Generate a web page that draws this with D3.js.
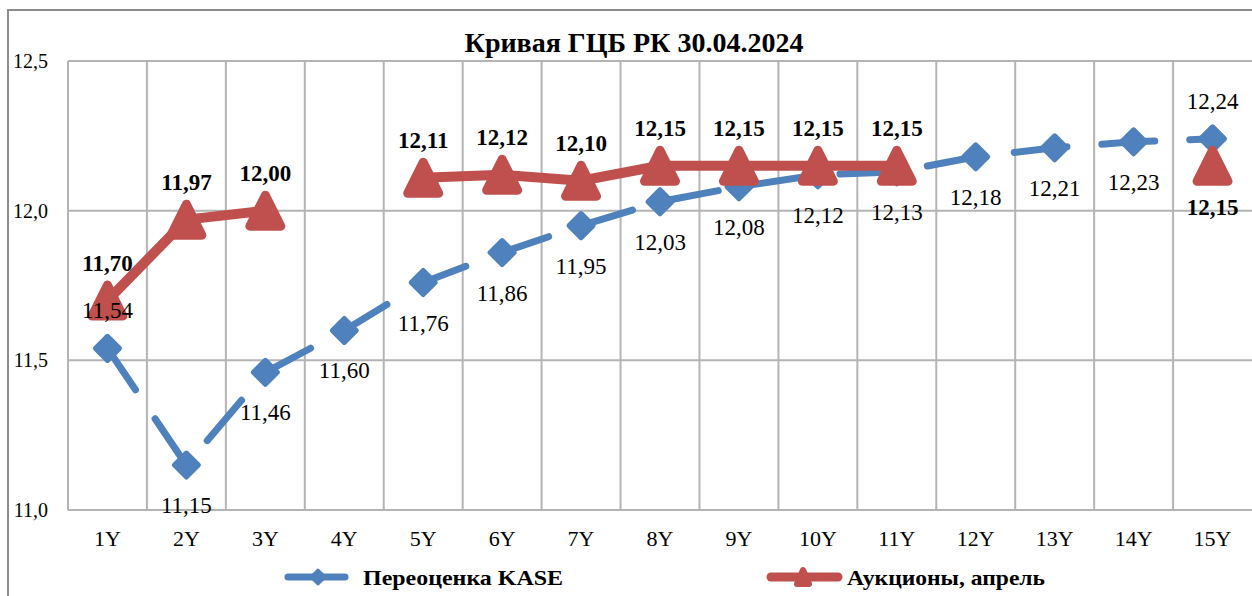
<!DOCTYPE html>
<html>
<head>
<meta charset="utf-8">
<script src="https://cdnjs.cloudflare.com/ajax/libs/d3/7.8.5/d3.min.js"></script>
<style>
  html, body { margin: 0; padding: 0; background: #fff; }
  svg { display: block; }
  text { font-family: "Liberation Serif", "Times New Roman", serif; fill: #000; }
</style>
</head>
<body>
<svg id="chart" width="1252" height="596"></svg>
<script>
const title = "Кривая ГЦБ РК 30.04.2024";
const categories = ["1Y","2Y","3Y","4Y","5Y","6Y","7Y","8Y","9Y","10Y","11Y","12Y","13Y","14Y","15Y"];
const kaseName = "Переоценка KASE";
const kase = [11.54, 11.15, 11.46, 11.60, 11.76, 11.86, 11.95, 12.03, 12.08, 12.12, 12.13, 12.18, 12.21, 12.23, 12.24];
const auctionName = "Аукционы, апрель";
const auctions = [11.70, 11.97, 12.00, null, 12.11, 12.12, 12.10, 12.15, 12.15, 12.15, 12.15, null, null, null, 12.15];
const yTicks = [11.0, 11.5, 12.0, 12.5];

const W = 1252, H = 596;
const plot = { left: 68, right: 1252, top: 61, bottom: 510 };
const blue = "#4F81BD", red = "#C0504D", grid = "#b4b4b4";

const svg = d3.select("#chart");
const x = d3.scaleBand().domain(categories).range([plot.left, plot.right]);
const y = d3.scaleLinear().domain([11.0, 12.5]).range([plot.bottom, plot.top]);
const cx = c => x(c) + x.bandwidth() / 2;
const fmt2 = v => d3.format(".2f")(v).replace(".", ",");
const fmt1 = v => d3.format(".1f")(v).replace(".", ",");

// outer chart border
svg.append("path").attr("d", `M8,${H} L8,10 L${W},10`)
  .attr("fill", "none").attr("stroke", "#8c8c8c").attr("stroke-width", 2);

// title
svg.append("text").attr("x", 634).attr("y", 52).attr("text-anchor", "middle")
  .attr("font-size", 28).attr("font-weight", "bold").text(title);

// horizontal gridlines
svg.append("g").selectAll("line").data(yTicks).join("line")
  .attr("x1", plot.left).attr("x2", plot.right)
  .attr("y1", d => y(d)).attr("y2", d => y(d))
  .attr("stroke", grid).attr("stroke-width", 2);

// vertical gridlines (category boundaries)
svg.append("g").selectAll("line").data(categories).join("line")
  .attr("x1", d => x(d)).attr("x2", d => x(d))
  .attr("y1", plot.top).attr("y2", plot.bottom)
  .attr("stroke", grid).attr("stroke-width", 2);

// y tick labels
svg.append("g").selectAll("text").data(yTicks).join("text")
  .attr("x", 48).attr("y", d => y(d)).attr("dy", "0.35em")
  .attr("text-anchor", "end").attr("font-size", 20).text(fmt1);

// x tick labels
svg.append("g").selectAll("text").data(categories).join("text")
  .attr("x", d => cx(d)).attr("y", 546)
  .attr("text-anchor", "middle").attr("font-size", 22).text(d => d);

// blue line (long dash)
const kasePts = categories.map((c, i) => ({ c, v: kase[i], i }));
const line = d3.line().x(d => cx(d.c)).y(d => y(d.v)).defined(d => d.v != null);
svg.append("path").datum(kasePts).attr("d", line)
  .attr("fill", "none").attr("stroke", blue).attr("stroke-width", 7)
  .attr("stroke-linecap", "round").attr("stroke-linejoin", "round")
  .attr("stroke-dasharray", "53,35").attr("stroke-dashoffset", 3);

const diamond = s => `M0,${-s} L${s},0 L0,${s} L${-s},0 Z`;
svg.append("g").selectAll("path").data(kasePts).join("path")
  .attr("transform", d => `translate(${cx(d.c)},${y(d.v)})`)
  .attr("d", diamond(12)).attr("fill", blue).attr("stroke", blue)
  .attr("stroke-width", 5).attr("stroke-linejoin", "round");

// red line
const aucPts = categories.map((c, i) => ({ c, v: auctions[i], i }));
svg.append("path").datum(aucPts).attr("d", line)
  .attr("fill", "none").attr("stroke", red).attr("stroke-width", 10)
  .attr("stroke-linejoin", "round");

const triangle = (w, h) => `M0,${-h / 2} L${w / 2},${h / 2} L${-w / 2},${h / 2} Z`;
svg.append("g").selectAll("path").data(aucPts.filter(d => d.v != null)).join("path")
  .attr("transform", d => `translate(${cx(d.c)},${y(d.v)})`)
  .attr("d", triangle(31, 31)).attr("fill", red).attr("stroke", red)
  .attr("stroke-width", 9).attr("stroke-linejoin", "round");

// labels
const last = categories.length - 1;
svg.append("g").selectAll("text").data(kasePts).join("text")
  .attr("x", d => cx(d.c))
  .attr("y", d => y(d.v) + ((d.i === 0 || d.i === last) ? -38 : 40))
  .attr("dy", "0.35em").attr("text-anchor", "middle").attr("font-size", 23)
  .text(d => fmt2(d.v));

const isolated = d => (d.i === 0 || auctions[d.i - 1] == null) && (d.i === last || auctions[d.i + 1] == null);
svg.append("g").selectAll("text").data(aucPts.filter(d => d.v != null)).join("text")
  .attr("x", d => cx(d.c))
  .attr("y", d => y(d.v) + (isolated(d) ? 41 : -38))
  .attr("dy", "0.35em").attr("text-anchor", "middle").attr("font-size", 23)
  .attr("font-weight", "bold").text(d => fmt2(d.v));

// legend
const lg = svg.append("g");
const ly = 577;
lg.append("line").attr("x1", 288).attr("x2", 345).attr("y1", ly).attr("y2", ly)
  .attr("stroke", blue).attr("stroke-width", 7).attr("stroke-linecap", "round");
lg.append("path").attr("transform", `translate(318,${ly})`).attr("d", diamond(7))
  .attr("fill", blue).attr("stroke", blue).attr("stroke-width", 3).attr("stroke-linejoin", "round");
lg.append("text").attr("x", 363).attr("y", ly).attr("dy", "0.35em")
  .attr("font-size", 22).attr("font-weight", "bold")
  .attr("textLength", 200).attr("lengthAdjust", "spacingAndGlyphs").text(kaseName);

lg.append("line").attr("x1", 771).attr("x2", 838).attr("y1", ly).attr("y2", ly)
  .attr("stroke", red).attr("stroke-width", 9).attr("stroke-linecap", "round");
lg.append("path").attr("transform", `translate(803,${ly})`).attr("d", triangle(12, 14))
  .attr("fill", red).attr("stroke", red).attr("stroke-width", 6).attr("stroke-linejoin", "round");
lg.append("text").attr("x", 847).attr("y", ly).attr("dy", "0.35em")
  .attr("font-size", 22).attr("font-weight", "bold")
  .attr("textLength", 198).attr("lengthAdjust", "spacingAndGlyphs").text(auctionName);
</script>
</body>
</html>
